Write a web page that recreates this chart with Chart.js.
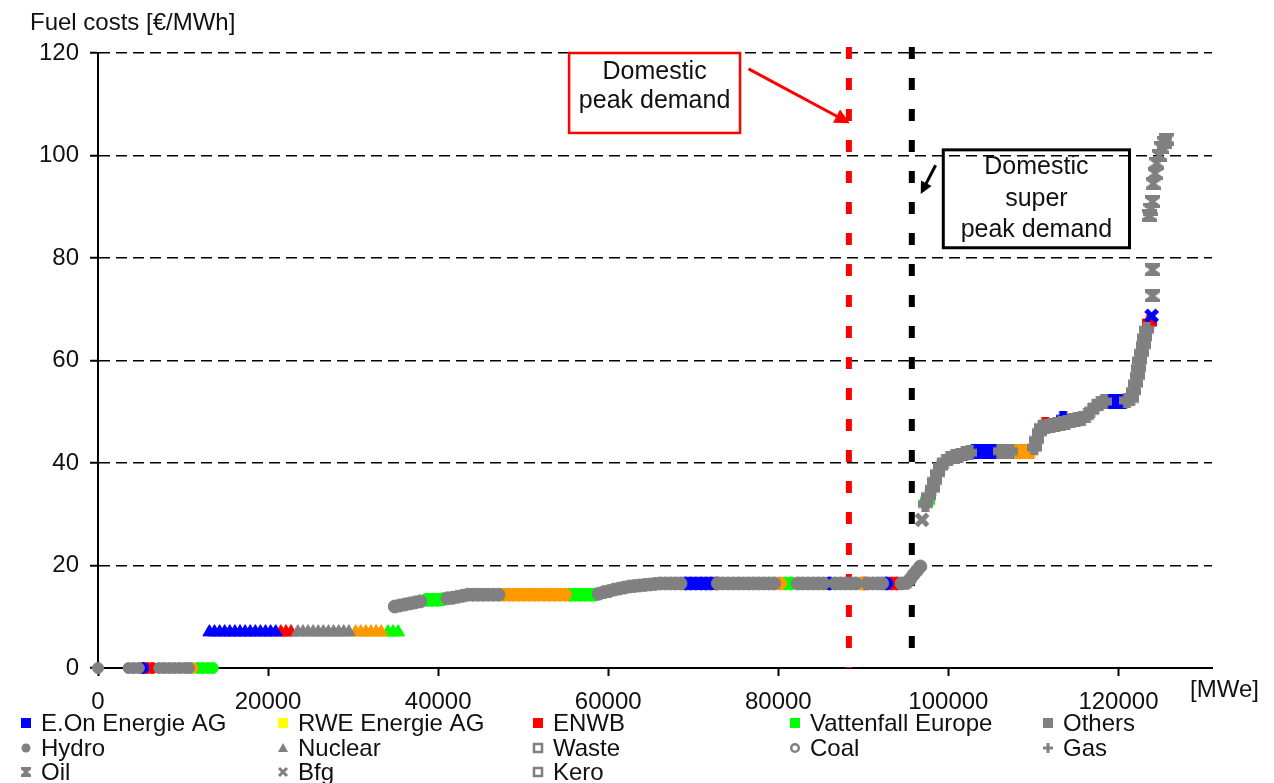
<!DOCTYPE html>
<html>
<head>
<meta charset="utf-8">
<script src="https://cdn.jsdelivr.net/npm/chart.js@4"></script>
<style>
  html, body { margin: 0; padding: 0; background: #fff; }
  #chart { display: block; }
</style>
</head>
<body>
<canvas id="chart" width="1274" height="783"></canvas>
<script>
const FONT = '"Liberation Sans", Arial, Helvetica, sans-serif';

const yTitle = 'Fuel costs [€/MWh]';
const xTitle = '[MWe]';
const xTicks = [0, 20000, 40000, 60000, 80000, 100000, 120000];
const yTicks = [0, 20, 40, 60, 80, 100, 120];

const companies = ['E.On Energie AG', 'RWE Energie AG', 'ENWB', 'Vattenfall Europe', 'Others'];
const fuels = ['Hydro', 'Nuclear', 'Waste', 'Coal', 'Gas', 'Oil', 'Bfg', 'Kero'];

// demand markers [MWe]
const peakDemand = 88300;
const superPeakDemand = 95700;

// units: [cumulative capacity MWe, fuel cost EUR/MWh]
const othersHydro = [[0, 0], [3600, 0], [4200, 0], [4800, 0], [7200, 0], [7800, 0], [8400, 0], [9000, 0], [9600, 0], [10200, 0], [10700, 0]];
const othersNuclear = [[23500, 7], [24100, 7], [24700, 7], [25300, 7], [25900, 7], [26500, 7], [27100, 7], [27700, 7], [28300, 7], [28900, 7], [29500, 7]];
const othersCoal = [
  [34900, 12.0], [35500, 12.2], [36100, 12.4], [36700, 12.6], [37300, 12.8], [37900, 13.0],
  [41100, 13.6], [41700, 13.7], [42300, 13.9], [42900, 14.1],
  [43500, 14.3], [44100, 14.3], [44700, 14.3], [45300, 14.3], [45900, 14.3], [46500, 14.3], [47100, 14.3],
  [58900, 14.5], [59500, 14.8], [60100, 15.0], [60700, 15.3], [61300, 15.5], [61900, 15.7], [62500, 15.9],
  [63100, 16.0], [63700, 16.1], [64300, 16.2], [64900, 16.3], [65500, 16.4], [66100, 16.5], [66700, 16.5],
  [67300, 16.5], [67900, 16.5], [68500, 16.5],
  [72900, 16.5], [73500, 16.5], [74100, 16.5], [74700, 16.5], [75300, 16.5], [75900, 16.5], [76500, 16.5],
  [77100, 16.5], [77700, 16.5], [78300, 16.5], [78900, 16.5], [79500, 16.5],
  [82300, 16.5], [82900, 16.5], [83500, 16.5], [84100, 16.5], [84700, 16.5], [85300, 16.5],
  [86700, 16.5], [87300, 16.5], [87900, 16.5], [88500, 16.5], [89100, 16.5],
  [90500, 16.5], [91100, 16.5], [91700, 16.5], [92200, 16.5],
  [94500, 16.5], [95100, 16.6], [95500, 17.3], [95900, 18.2], [96300, 19.0], [96700, 19.8]
];
const othersBfg = [[96900, 28.9]];
const othersGas = [
  [97300, 32.0], [97700, 33.5], [98100, 35.0], [98400, 36.5], [98700, 38.0], [99100, 39.3], [99600, 40.3],
  [100100, 40.8], [100700, 41.2], [101300, 41.5], [101900, 41.8], [102500, 42.0],
  [106100, 42.3], [106700, 42.3], [107300, 42.3],
  [110100, 43.0], [110400, 44.5], [110700, 46.0], [111000, 47.0], [111500, 47.2], [112100, 47.4],
  [112700, 47.6], [113300, 47.8], [113900, 48.0], [114500, 48.2], [115100, 48.4], [115700, 48.7],
  [116300, 49.2], [116800, 50.2], [117300, 51.0], [117800, 51.7], [118300, 52.0],
  [121000, 52.2], [121500, 52.5], [121800, 54.0], [122000, 55.5], [122200, 57.0], [122400, 58.5],
  [122500, 60.0], [122700, 61.5], [122900, 63.0], [123100, 64.5], [123300, 66.0]
];
const othersOil = [
  [124000, 72.6], [124000, 77.7], [123600, 88.3], [123800, 89.5], [124000, 91.0],
  [124100, 94.5], [124300, 96.5], [124500, 98.5], [124800, 100.0], [125100, 101.5], [125400, 102.5], [125700, 103.2]
];

const eonHydro = [[5300, 0]];
const eonNuclear = [[13100, 7], [13700, 7], [14300, 7], [14900, 7], [15500, 7], [16100, 7], [16700, 7], [17300, 7], [17900, 7], [18500, 7], [19100, 7], [19700, 7], [20300, 7], [20900, 7]];
const eonCoal = [[69100, 16.5], [69700, 16.5], [70300, 16.5], [70900, 16.5], [71500, 16.5], [72100, 16.5], [86000, 16.5], [92700, 16.5]];
const eonGas = [[103100, 42.3], [103700, 42.3], [104300, 42.3], [104900, 42.3], [105500, 42.3], [113500, 48.6], [118700, 52.0], [119300, 52.0], [119900, 52.0], [120500, 52.0]];
const eonBfg = [[123900, 68.7]];

const rweHydro = [[11100, 0]];
const rweNuclear = [[30300, 7], [30900, 7], [31500, 7], [32100, 7], [32700, 7], [33300, 7]];
const rweCoal = [[47700, 14.3], [48300, 14.3], [48900, 14.3], [49500, 14.3], [50100, 14.3], [50700, 14.3], [51300, 14.3], [51900, 14.3], [52500, 14.3], [53100, 14.3], [53700, 14.3], [54300, 14.3], [54900, 14.3], [80200, 16.5], [89700, 16.5]];
const rweGas = [[107900, 42.3], [108500, 42.3], [109100, 42.3], [109700, 42.3]];

const enwbHydro = [[5800, 0], [6400, 0]];
const enwbNuclear = [[21500, 7], [22100, 7], [22700, 7]];
const enwbCoal = [[72700, 16.5], [90100, 16.5], [93300, 16.5], [93900, 16.5]];
const enwbGas = [[111400, 47.6], [123700, 67.4]];

const vattHydro = [[11700, 0], [12300, 0], [12900, 0], [13500, 0]];
const vattNuclear = [[34100, 7], [34700, 7], [35300, 7]];
const vattCoal = [[38700, 13.3], [39300, 13.3], [39900, 13.3], [40500, 13.4], [55500, 14.3], [56100, 14.3], [56700, 14.3], [57300, 14.3], [57900, 14.3], [58400, 14.3], [80800, 16.5], [81500, 16.5]];
const vattGas = [[97500, 32.6]];

// [company, fuel, units] - drawn in this order
const groups = [
  ['Others', 'Hydro', othersHydro], ['Others', 'Nuclear', othersNuclear], ['Others', 'Coal', othersCoal],
  ['Others', 'Bfg', othersBfg], ['Others', 'Gas', othersGas], ['Others', 'Oil', othersOil],
  ['E.On Energie AG', 'Hydro', eonHydro], ['E.On Energie AG', 'Nuclear', eonNuclear], ['E.On Energie AG', 'Coal', eonCoal],
  ['E.On Energie AG', 'Gas', eonGas], ['E.On Energie AG', 'Bfg', eonBfg],
  ['RWE Energie AG', 'Hydro', rweHydro], ['RWE Energie AG', 'Nuclear', rweNuclear], ['RWE Energie AG', 'Coal', rweCoal], ['RWE Energie AG', 'Gas', rweGas],
  ['ENWB', 'Hydro', enwbHydro], ['ENWB', 'Nuclear', enwbNuclear], ['ENWB', 'Coal', enwbCoal], ['ENWB', 'Gas', enwbGas],
  ['Vattenfall Europe', 'Hydro', vattHydro], ['Vattenfall Europe', 'Nuclear', vattNuclear], ['Vattenfall Europe', 'Coal', vattCoal], ['Vattenfall Europe', 'Gas', vattGas]
];

const pointColors = { 'E.On Energie AG': '#0000ff', 'RWE Energie AG': '#ff9900', 'ENWB': '#ff0000', 'Vattenfall Europe': '#00ff00', 'Others': '#808080' };
const legendColors = { 'E.On Energie AG': '#0000ff', 'RWE Energie AG': '#ffff00', 'ENWB': '#ff0000', 'Vattenfall Europe': '#00ff00', 'Others': '#808080' };
const GREY = '#808080';

const fuelStyle = {
  Hydro: { style: 'circle', r: 5.5, bw: 1 },
  Nuclear: { style: 'triangle', r: 7.5, bw: 1 },
  Coal: { style: 'circle', r: 6.5, bw: 1 },
  Gas: { style: 'plus', r: 7, bw: 1 },
  Oil: { style: 'oil', r: 7, bw: 1 },
  Bfg: { style: 'crossRot', r: 8, bw: 5 }
};

function oilMarker(color, w, h) {
  const c = document.createElement('canvas');
  c.width = w; c.height = h;
  const g = c.getContext('2d');
  g.fillStyle = color;
  g.beginPath();
  g.moveTo(0, 0); g.lineTo(w, 0); g.lineTo(w, h * 0.25); g.lineTo(w * 0.68, h / 2);
  g.lineTo(w, h * 0.75); g.lineTo(w, h); g.lineTo(0, h); g.lineTo(0, h * 0.75);
  g.lineTo(w * 0.32, h / 2); g.lineTo(0, h * 0.25);
  g.closePath();
  g.fill();
  return c;
}

function plusMarker(color, s, arm) {
  const c = document.createElement('canvas');
  c.width = s; c.height = s;
  const g = c.getContext('2d');
  g.fillStyle = color;
  const o = (s - arm) / 2;
  g.fillRect(0, o, s, arm);
  g.fillRect(o, 0, arm, s);
  return c;
}

function pointStyleFor(fuel, color) {
  const st = fuelStyle[fuel].style;
  if (st === 'oil') return oilMarker(color, 15, 13);
  if (st === 'plus') return plusMarker(color, 15, 8);
  return st;
}

const datasets = groups.map(([company, fuel, units]) => {
  const color = pointColors[company];
  const st = fuelStyle[fuel];
  return {
    label: company + ' / ' + fuel,
    data: units.map(u => ({ x: u[0], y: u[1] })),
    pointStyle: pointStyleFor(fuel, color),
    pointRadius: st.r,
    pointBorderWidth: st.bw,
    pointBackgroundColor: color,
    pointBorderColor: color,
    showLine: false,
    clip: false
  };
});

function demandLine(ctx, x, bottom, color) {
  ctx.save();
  ctx.strokeStyle = color;
  ctx.lineWidth = 6;
  ctx.setLineDash([12, 19]);
  ctx.beginPath();
  ctx.moveTo(x, 47);
  ctx.lineTo(x, bottom);
  ctx.stroke();
  ctx.restore();
}

function arrow(ctx, x0, y0, x1, y1, color, width, head) {
  const a = Math.atan2(y1 - y0, x1 - x0);
  ctx.save();
  ctx.strokeStyle = color;
  ctx.fillStyle = color;
  ctx.lineWidth = width;
  ctx.beginPath();
  ctx.moveTo(x0, y0);
  ctx.lineTo(x1 - Math.cos(a) * head * 0.8, y1 - Math.sin(a) * head * 0.8);
  ctx.stroke();
  ctx.beginPath();
  ctx.moveTo(x1, y1);
  ctx.lineTo(x1 - Math.cos(a) * head + Math.sin(a) * head * 0.5, y1 - Math.sin(a) * head - Math.cos(a) * head * 0.5);
  ctx.lineTo(x1 - Math.cos(a) * head - Math.sin(a) * head * 0.5, y1 - Math.sin(a) * head + Math.cos(a) * head * 0.5);
  ctx.closePath();
  ctx.fill();
  ctx.restore();
}

function noteBox(ctx, x, y, box, color, width, lines, offsets) {
  const l = x.getPixelForValue(box[0]), r = x.getPixelForValue(box[1]);
  const t = y.getPixelForValue(box[2]), b = y.getPixelForValue(box[3]);
  ctx.save();
  ctx.strokeStyle = color;
  ctx.lineWidth = width;
  ctx.strokeRect(l, t, r - l, b - t);
  ctx.fillStyle = '#111';
  ctx.font = '25px ' + FONT;
  ctx.textAlign = 'center';
  ctx.textBaseline = 'middle';
  lines.forEach((s, i) => ctx.fillText(s, (l + r) / 2, t + offsets[i]));
  ctx.restore();
}

function legendMarker(ctx, kind, cx, cy, color) {
  ctx.save();
  ctx.fillStyle = color;
  ctx.strokeStyle = color;
  ctx.beginPath();
  if (kind === 'square') {
    ctx.fillRect(cx - 5, cy - 5, 10, 10);
  } else if (kind === 'Hydro') {
    ctx.arc(cx, cy, 4.5, 0, Math.PI * 2); ctx.fill();
  } else if (kind === 'Nuclear') {
    ctx.moveTo(cx, cy - 5); ctx.lineTo(cx + 5, cy + 4); ctx.lineTo(cx - 5, cy + 4); ctx.closePath(); ctx.fill();
  } else if (kind === 'Waste' || kind === 'Kero') {
    ctx.lineWidth = 2.5; ctx.strokeRect(cx - 4, cy - 4, 8, 8);
  } else if (kind === 'Coal') {
    ctx.lineWidth = 2.5; ctx.arc(cx, cy, 3.8, 0, Math.PI * 2); ctx.stroke();
  } else if (kind === 'Gas') {
    ctx.lineWidth = 3; ctx.moveTo(cx - 5, cy); ctx.lineTo(cx + 5, cy); ctx.moveTo(cx, cy - 5); ctx.lineTo(cx, cy + 5); ctx.stroke();
  } else if (kind === 'Oil') {
    ctx.drawImage(oilMarker(color, 10, 10), cx - 5, cy - 5);
  } else if (kind === 'Bfg') {
    ctx.lineWidth = 3; ctx.moveTo(cx - 4, cy - 4); ctx.lineTo(cx + 4, cy + 4); ctx.moveTo(cx + 4, cy - 4); ctx.lineTo(cx - 4, cy + 4); ctx.stroke();
  }
  ctx.restore();
}

const extras = {
  id: 'extras',
  beforeDatasetsDraw(chart) {
    const { ctx, chartArea, scales } = chart;
    demandLine(ctx, scales.x.getPixelForValue(peakDemand), chartArea.bottom, '#ff0000');
    demandLine(ctx, scales.x.getPixelForValue(superPeakDemand), chartArea.bottom, '#000000');
  },
  afterDraw(chart) {
    const { ctx, scales: { x, y } } = chart;
    ctx.save();
    ctx.fillStyle = '#111';
    ctx.font = '24px ' + FONT;
    ctx.textAlign = 'left';
    ctx.textBaseline = 'middle';
    ctx.fillText(yTitle, 30, 23);
    ctx.fillText(xTitle, 1190, 690);
    ctx.restore();

    noteBox(ctx, x, y, [55400, 75500, 120, 104.4], '#ff0000', 2.5, ['Domestic', 'peak demand'], [19, 48]);
    noteBox(ctx, x, y, [99400, 121300, 101.1, 82.0], '#000000', 3, ['Domestic', 'super', 'peak demand'], [17, 49, 80]);
    arrow(ctx, x.getPixelForValue(76500), y.getPixelForValue(116.9), x.getPixelForValue(88400), y.getPixelForValue(106.3), '#ff0000', 3, 15);
    arrow(ctx, x.getPixelForValue(98500), y.getPixelForValue(98.1), x.getPixelForValue(96750), y.getPixelForValue(92.5), '#000000', 3, 12);

    // legend grid
    const colText = [41, 298, 553, 810, 1063];
    const rowY = [723, 748, 772];
    const items = companies.map(c => ({ label: c, kind: 'square', color: legendColors[c] }))
      .concat(fuels.map(f => ({ label: f, kind: f, color: GREY })));
    ctx.save();
    ctx.font = '24px ' + FONT;
    ctx.textAlign = 'left';
    ctx.textBaseline = 'middle';
    items.forEach((it, i) => {
      const col = i % 5, row = Math.floor(i / 5);
      legendMarker(ctx, it.kind, colText[col] - 15, rowY[row], it.color);
      ctx.fillStyle = '#111';
      ctx.fillText(it.label, colText[col], rowY[row] + 1);
    });
    ctx.restore();
  }
};

new Chart(document.getElementById('chart'), {
  type: 'scatter',
  data: { datasets: datasets },
  options: {
    responsive: false,
    animation: false,
    devicePixelRatio: 1,
    layout: { padding: { left: 0, top: 53, right: 62, bottom: 0 } },
    plugins: { legend: { display: false }, tooltip: { enabled: false } },
    scales: {
      x: {
        type: 'linear',
        min: 0,
        max: 131000,
        afterBuildTicks: axis => { axis.ticks = xTicks.map(v => ({ value: v })); },
        afterFit: axis => { axis.height = 115; },
        grid: { drawOnChartArea: false, tickLength: 8, tickColor: '#000', tickWidth: 2 },
        border: { color: '#000', width: 2 },
        ticks: { color: '#111', font: { family: FONT, size: 24 }, padding: 12, maxRotation: 0, autoSkip: false, callback: v => String(v) }
      },
      y: {
        type: 'linear',
        min: 0,
        max: 120,
        afterBuildTicks: axis => { axis.ticks = yTicks.map(v => ({ value: v })); },
        afterFit: axis => { axis.width = 98; },
        grid: { color: '#000', lineWidth: 1.5, tickLength: 8, tickColor: '#000', tickWidth: 2 },
        border: { color: '#000', width: 2, dash: [11, 6] },
        ticks: { color: '#111', font: { family: FONT, size: 24 }, padding: 11, callback: v => String(v) }
      }
    }
  },
  plugins: [extras]
});
</script>
</body>
</html>
